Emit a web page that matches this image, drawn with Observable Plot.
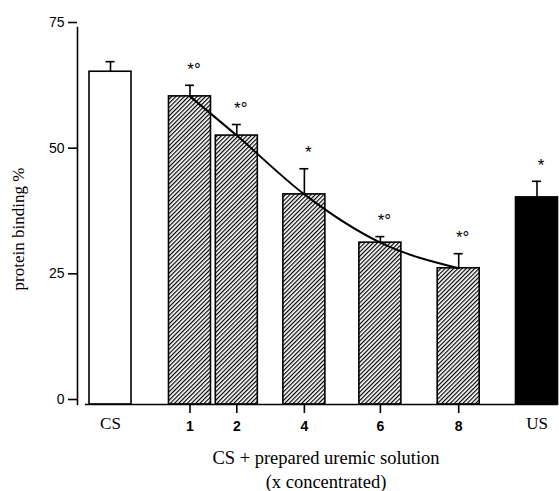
<!DOCTYPE html>
<html><head><meta charset="utf-8">
<script src="https://cdn.jsdelivr.net/npm/d3@7"></script>
<script src="https://cdn.jsdelivr.net/npm/@observablehq/plot@0.6"></script>
<style>body{margin:0;background:#fff}</style>
</head><body><div id="chart"></div>
<script>
// ---- data ----
const categories = ["CS", "1", "2", "4", "6", "8", "US"];
const positions  = [-1, 1, 2, 4, 6, 8, 10];          // concentration (CS / US placed at the ends)
const means      = [66.2, 61.3, 53.5, 41.8, 32.2, 27.1, 41.2];
const errors     = [2.0, 2.2, 2.2, 5.1, 1.2, 2.9, 3.2];
const signif     = ["", "*°", "*°", "*", "*°", "*°", "*"];
const groups     = ["control", "prepared", "prepared", "prepared", "prepared", "prepared", "uremic"];
const yTicks     = [0, 25, 50, 75];
const xTicks     = [1, 2, 4, 6, 8];
const yLabel     = "protein binding %";
const xLabel     = "CS + prepared uremic solution\n(x concentrated)";

const rows = categories.map((c, i) => ({
  cat: c, pos: positions[i], mean: means[i], err: errors[i], top: means[i] + errors[i],
  sig: signif[i], group: groups[i]
}));
const prepared = rows.filter(d => d.group === "prepared");
const ends = rows.filter(d => d.group !== "prepared");
const fills = {control: "white", prepared: "url(#hatch)", uremic: "black"};

// axis layout of the original figure (uneven spacing of the categories)
const xLayout = d3.scaleLinear().domain(positions).range([-1.07, 1, 2.22, 3.98, 5.96, 8, 10.04]);

const serif = "Liberation Serif, Times New Roman, serif";
const sans = "Liberation Sans, Arial, sans-serif";

const chart = Plot.plot({
  width: 559,
  height: 491,
  marginTop: 27,
  marginBottom: 87,
  marginLeft: 77,
  marginRight: 1,
  style: {background: "white", color: "black"},
  x: {type: "linear", domain: [-1.93, 10.6], transform: xLayout, axis: null},
  y: {domain: [0, 75]},
  marks: [
    // error bars
    Plot.ruleX(rows, {x: "pos", y1: "mean", y2: "top", stroke: "black", strokeWidth: 1.6}),
    Plot.ruleY(rows, {x1: "pos", x2: "pos", y: "top", insetLeft: -4.5, insetRight: -4.5, stroke: "black", strokeWidth: 1.6}),
    // bars
    Plot.rect(rows, {x1: "pos", x2: "pos", y1: 0, y2: "mean", insetLeft: -21, insetRight: -21,
      fill: d => fills[d.group], stroke: "black", strokeWidth: 1.6}),
    // trend line through the prepared-solution means
    Plot.line(prepared, {x: "pos", y: "mean", curve: "monotone-x", stroke: "black", strokeWidth: 2}),
    // significance marks
    Plot.text(rows, {x: "pos", y: "top", text: "sig", dy: -16, dx: 4, fontSize: 17, fontFamily: sans, fill: "black"}),
    // axes
    Plot.frame({anchor: "left", stroke: "black", strokeWidth: 1.6}),
    Plot.ruleY([0], {insetLeft: 8, stroke: "black", strokeWidth: 1.6}),
    Plot.axisY({ticks: yTicks, tickSize: 9, tickPadding: 4, dy: -5, fontSize: 14, fontFamily: sans,
      label: null, strokeWidth: 1.6}),
    Plot.ruleX(xTicks, {x: d => d, y1: 0, y2: 0, insetBottom: -9, stroke: "black", strokeWidth: 1.6}),
    Plot.text(xTicks, {x: d => d, y: 0, text: d => String(d), dy: 22, fontSize: 14, fontWeight: "bold",
      fontFamily: sans, fill: "black"}),
    Plot.text(ends, {x: "pos", y: 0, text: "cat", dy: 19, fontSize: 17, fontFamily: serif, fill: "black"}),
    // axis titles
    Plot.text([yLabel], {frameAnchor: "left", textAnchor: "middle", rotate: -90, dx: -59, dy: 13,
      fontSize: 17, fontFamily: serif, fill: "black"}),
    Plot.text([xLabel], {frameAnchor: "bottom", lineAnchor: "top", dy: 43, dx: 8, lineHeight: 1.28,
      fontSize: 18.5, fontFamily: serif, fill: "black"})
  ]
});

d3.select(chart).insert("defs", ":first-child")
  .append("pattern")
  .attr("id", "hatch")
  .attr("patternUnits", "userSpaceOnUse")
  .attr("width", 3)
  .attr("height", 3)
  .attr("patternTransform", "rotate(45)")
  .call(p => p.append("rect").attr("width", 3).attr("height", 3).attr("fill", "white"))
  .append("line")
  .attr("x1", 0.6).attr("y1", 0).attr("x2", 0.6).attr("y2", 3)
  .attr("stroke", "black").attr("stroke-width", 1.2);

document.getElementById("chart").appendChild(chart);
</script>
</body></html>
